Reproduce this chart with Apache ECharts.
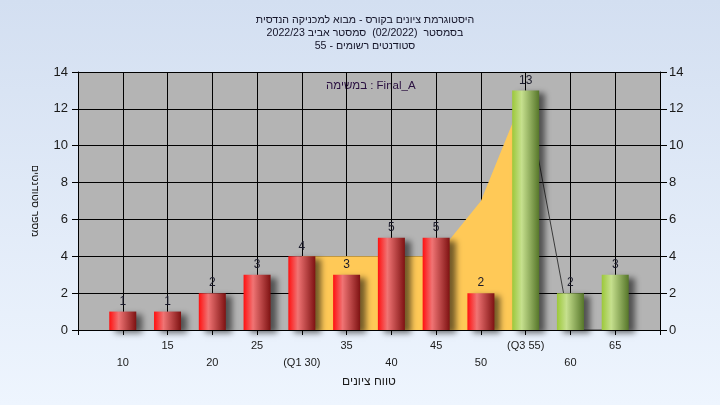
<!DOCTYPE html>
<html>
<head>
<meta charset="utf-8">
<script src="https://cdn.jsdelivr.net/npm/echarts@6/dist/echarts.min.js"></script>
<style>
html,body{margin:0;padding:0;width:720px;height:405px;overflow:hidden;background:linear-gradient(#d3dff1,#eef5fe);}
#c{width:720px;height:405px;}
</style>
</head>
<body>
<div id="c"></div>
<script>
// ---- data ----
const titleLines = ['היסטוגרמת ציונים בקורס - מבוא למכניקה הנדסית', 'בסמסטר  (02/2022)  סמסטר אביב 2022/23', 'סטודנטים רשומים - 55'];
const taskLabel = 'במשימה : Final_A';
const yAxisName = 'מספר סטודנטים';
const xAxisName = 'טווח ציונים';
const tickValues = [5, 10, 15, 20, 25, 30, 35, 40, 45, 50, 55, 60, 65, 70];
const tickLabels = ['', '10', '15', '20', '25', '(Q1 30)', '35', '40', '45', '50', '(Q3 55)', '60', '65', ''];
const redGrades = [10, 15, 20, 25, 30, 35, 40, 45, 50];
const redCounts = [1, 1, 2, 3, 4, 3, 5, 5, 2];
const greenGrades = [55, 60, 65];
const greenCounts = [13, 2, 3];
const areaGrades = [30, 35, 40, 45, 50, 55];
const areaValues = [4, 4, 4, 4, 7, 13];
const lineGrades = [55, 60, 65];
const lineValues = [13, 0, 0];

const zip = (a, b) => a.map((v, i) => [v, b[i]]);
const font = 'Liberation Sans, Arial, sans-serif';
const redGrad = new echarts.graphic.LinearGradient(0, 0, 1, 0, [
  {offset: 0, color: '#ff1010'}, {offset: 0.35, color: '#f07474'}, {offset: 1, color: '#7e1212'}]);
const greenGrad = new echarts.graphic.LinearGradient(0, 0, 1, 0, [
  {offset: 0, color: '#9cc83a'}, {offset: 0.35, color: '#c6e08e'}, {offset: 1, color: '#56762a'}]);
const barStyle = (c) => ({color: c, shadowColor: 'rgba(0,0,0,0.55)', shadowBlur: 6, shadowOffsetX: 6, shadowOffsetY: 3});
const lbl = {show: true, position: 'top', distance: 4, color: '#1a1a2a', fontSize: 12, fontFamily: font};

const chart = echarts.init(document.getElementById('c'));
chart.setOption({
  backgroundColor: 'transparent',
  animation: false,
  title: {
    text: titleLines.join('\n'), left: 360, top: 9, textAlign: 'center',
    textStyle: {fontSize: 10.6, fontWeight: 'normal', color: '#141428', lineHeight: 13, fontFamily: font, align: 'center'}
  },
  graphic: [{type: 'text', left: 326, top: 80, style: {text: taskLabel, fill: '#2a1040', font: '11.5px ' + font}}],
  grid: {left: 78, right: 60, top: 72, bottom: 75, show: true, backgroundColor: '#b4b4b4', borderWidth: 0},
  xAxis: {
    type: 'value', min: 5, max: 70, interval: 5,
    name: xAxisName, nameLocation: 'middle', nameGap: 45,
    nameTextStyle: {fontSize: 12, color: '#1a1a1a', fontFamily: font},
    axisLine: {show: true, lineStyle: {color: '#000', width: 1}},
    axisTick: {show: true, length: 5, lineStyle: {color: '#000'}},
    splitLine: {show: true, lineStyle: {color: '#000', width: 1}},
    axisLabel: {
      margin: 7, fontSize: 11, color: '#1a1a1a', fontFamily: font, lineHeight: 17, showMinLabel: true, showMaxLabel: true,
      formatter: (v) => {
        const i = tickValues.indexOf(v);
        const t = i >= 0 ? tickLabels[i] : '';
        if (!t) return '';
        return (Math.round(v / 5) % 2 === 0) ? '\n' + t : t;
      }
    }
  },
  yAxis: [{
    type: 'value', min: 0, max: 14, interval: 2, position: 'left',
    name: yAxisName, nameLocation: 'middle', nameGap: 38, nameRotate: -90,
    nameTextStyle: {fontSize: 10.5, color: '#1a1a1a', fontFamily: font},
    axisLine: {show: true, lineStyle: {color: '#000'}},
    axisTick: {show: true, length: 6, lineStyle: {color: '#000'}},
    splitLine: {show: true, lineStyle: {color: '#000', width: 1}},
    axisLabel: {margin: 10, fontSize: 13, color: '#1a1a1a', fontFamily: font}
  }, {
    type: 'value', min: 0, max: 14, interval: 2, position: 'right',
    axisLine: {show: true, lineStyle: {color: '#000'}},
    axisTick: {show: true, length: 7, lineStyle: {color: '#000'}},
    splitLine: {show: false},
    axisLabel: {margin: 9, fontSize: 13, color: '#1a1a1a', fontFamily: font}
  }],
  series: [
    {type: 'line', data: zip(areaGrades, areaValues), symbol: 'none', z: 1,
     lineStyle: {width: 0}, areaStyle: {color: '#ffc957', opacity: 1}},
    {type: 'line', data: zip(lineGrades, lineValues), symbol: 'none', z: 1,
     lineStyle: {width: 1, color: '#3a3a3a'}},
    {type: 'bar', data: zip(redGrades, redCounts), barWidth: 27, barGap: '-100%', z: 3,
     itemStyle: barStyle(redGrad), label: lbl},
    {type: 'bar', data: zip(greenGrades, greenCounts), barWidth: 27, barGap: '-100%', z: 3,
     itemStyle: barStyle(greenGrad), label: lbl}
  ]
});
</script>
</body>
</html>
